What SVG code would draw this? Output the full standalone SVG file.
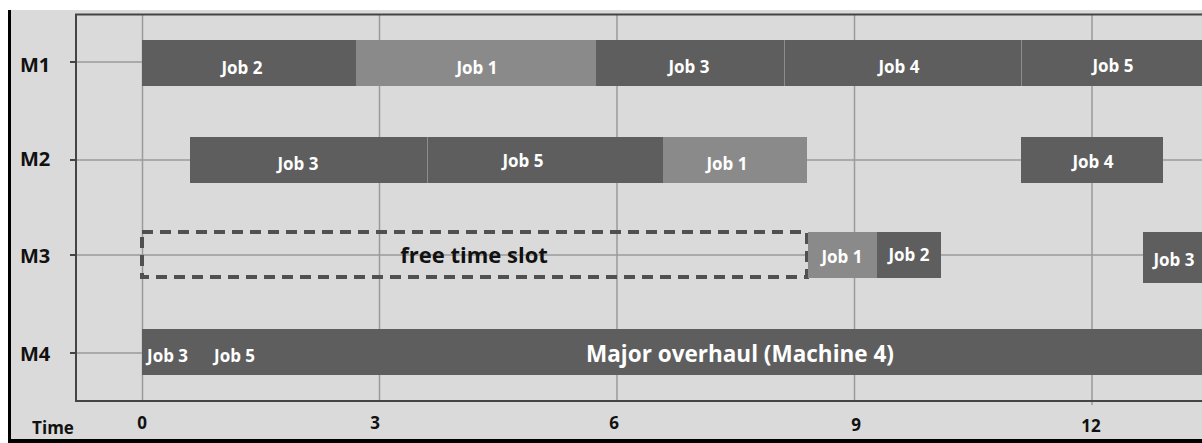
<svg xmlns="http://www.w3.org/2000/svg" width="1202" height="443" viewBox="0 0 1202 443">
<style>
.grid{stroke:#9a9a9a;stroke-width:1.5;fill:none}
.frame{stroke:#444;stroke-width:2;fill:none}
.dark{fill:#5e5e5e}
.light{fill:#8a8a8a}
.sep{stroke:#8c8c8c;stroke-width:1}
.jl{font-family:"Open Sans","DejaVu Sans",sans-serif;font-weight:bold;font-size:17px;fill:#fff;text-anchor:middle}
.js{font-family:"Open Sans","DejaVu Sans",sans-serif;font-weight:bold;font-size:17px;fill:#fff;text-anchor:start}
.ml{font-family:"Open Sans","DejaVu Sans",sans-serif;font-weight:bold;font-size:20px;fill:#111}
.ax{font-family:"Open Sans","DejaVu Sans",sans-serif;font-weight:bold;font-size:17px;fill:#111;text-anchor:middle}
.big{font-family:"Open Sans","DejaVu Sans",sans-serif;font-weight:bold;text-anchor:middle}
</style>
<rect x="0" y="0" width="1202" height="443" fill="#fff"/>
<rect x="10" y="10" width="1192" height="431" fill="#dadada"/>
<rect x="8" y="10" width="3" height="433" fill="#000"/>
<rect x="8" y="439" width="1194" height="4" fill="#000"/>
<g id="grid">
<line class="grid" x1="142.5" y1="15" x2="142.5" y2="401"/>
<line class="grid" x1="379.5" y1="15" x2="379.5" y2="401"/>
<line class="grid" x1="617" y1="15" x2="617" y2="401"/>
<line class="grid" x1="854.5" y1="15" x2="854.5" y2="401"/>
<line class="grid" x1="1092" y1="15" x2="1092" y2="405"/>
<line class="grid" x1="70" y1="62" x2="1202" y2="62"/>
<line class="grid" x1="70" y1="160" x2="1202" y2="160"/>
<line class="grid" x1="70" y1="255" x2="1202" y2="255"/>
<line class="grid" x1="70" y1="353" x2="1202" y2="353"/>
<line class="frame" x1="70" y1="62" x2="76" y2="62"/>
<line class="frame" x1="70" y1="160" x2="76" y2="160"/>
<line class="frame" x1="70" y1="255" x2="76" y2="255"/>
<line class="frame" x1="70" y1="353" x2="76" y2="353"/>
<polyline class="frame" points="1202,14.5 76,14.5 76,401 1202,401"/>
</g>
<g id="labels">
<text class="ml" x="20" y="72">M1</text>
<text class="ml" x="20" y="166">M2</text>
<text class="ml" x="20" y="263">M3</text>
<text class="ml" x="20" y="361">M4</text>
<text class="ax" x="53" y="434" font-size="18">Time</text>
<text class="ax" x="142" y="429">0</text>
<text class="ax" x="375" y="429">3</text>
<text class="ax" x="614" y="429">6</text>
<text class="ax" x="856" y="431">9</text>
<text class="ax" x="1091" y="432">12</text>
</g>
<g id="m1">
<rect class="dark" x="142" y="40" width="214" height="46"/>
<rect class="light" x="356" y="40" width="240" height="46"/>
<rect class="dark" x="596" y="40" width="188" height="46"/>
<rect class="dark" x="784" y="40" width="237" height="46"/>
<rect class="dark" x="1021" y="40" width="181" height="46"/>
<line class="sep" x1="784.5" y1="40" x2="784.5" y2="86"/>
<line class="sep" x1="1021.5" y1="40" x2="1021.5" y2="86"/>
<text class="jl" x="242" y="74">Job 2</text>
<text class="jl" x="477" y="74">Job 1</text>
<text class="jl" x="689" y="73">Job 3</text>
<text class="jl" x="899" y="73">Job 4</text>
<text class="jl" x="1113" y="72">Job 5</text>
</g>
<g id="m2">
<rect class="dark" x="190" y="137" width="237" height="46"/>
<rect class="dark" x="427" y="137" width="236" height="46"/>
<rect class="light" x="663" y="137" width="144" height="46"/>
<rect class="dark" x="1021" y="137" width="142" height="46"/>
<line class="sep" x1="427.5" y1="137" x2="427.5" y2="183"/>
<text class="jl" x="298" y="170">Job 3</text>
<text class="jl" x="523" y="167">Job 5</text>
<text class="jl" x="727" y="170">Job 1</text>
<text class="jl" x="1093" y="168">Job 4</text>
</g>
<g id="m3">
<rect x="142" y="232" width="665" height="45" fill="none" stroke="#505050" stroke-width="4" stroke-dasharray="11,7"/>
<text class="big" x="474" y="263" font-size="22" fill="#111">free time slot</text>
<rect class="light" x="808" y="232" width="69" height="46"/>
<rect class="dark" x="877" y="232" width="64" height="46"/>
<rect class="dark" x="1143" y="232" width="59" height="51"/>
<text class="jl" x="842" y="263">Job 1</text>
<text class="jl" x="909" y="261">Job 2</text>
<text class="jl" x="1174" y="266">Job 3</text>
</g>
<g id="m4">
<rect class="dark" x="142" y="329" width="1060" height="46"/>
<text class="js" x="147" y="362">Job 3</text>
<text class="js" x="214" y="362">Job 5</text>
<text class="big" x="740" y="362" font-size="22.5" fill="#fff">Major overhaul (Machine 4)</text>
</g>
<g id="connectors"></g>
</svg>
